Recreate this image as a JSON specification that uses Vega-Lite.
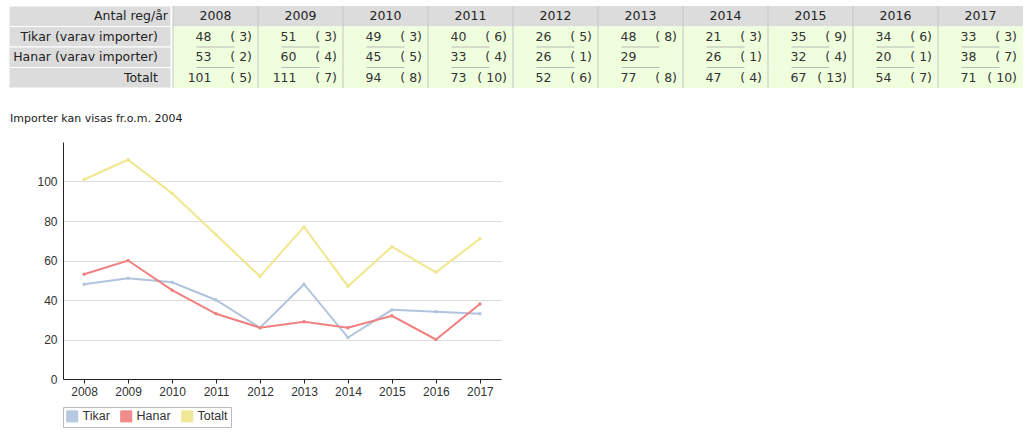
{
  "$schema": "https://vega.github.io/schema/vega-lite/v6.json",
  "padding": {"left": 8, "top": 5, "right": 0, "bottom": 0},
  "background": "white",
  "datasets": {
    "rader": [
      {"rad": "Antal reg/år", "typ": "header"},
      {"rad": "Tikar (varav importer)", "typ": "row"},
      {"rad": "Hanar (varav importer)", "typ": "row"},
      {"rad": "Totalt", "typ": "row"}
    ],
    "tab": [
      {"år": "2008", "kön": "Tikar", "rad": "Tikar (varav importer)", "antal": 48, "import": "( 3)"},
      {"år": "2008", "kön": "Hanar", "rad": "Hanar (varav importer)", "antal": 53, "import": "( 2)"},
      {"år": "2008", "kön": "Totalt", "rad": "Totalt", "antal": 101, "import": "( 5)"},
      {"år": "2009", "kön": "Tikar", "rad": "Tikar (varav importer)", "antal": 51, "import": "( 3)"},
      {"år": "2009", "kön": "Hanar", "rad": "Hanar (varav importer)", "antal": 60, "import": "( 4)"},
      {"år": "2009", "kön": "Totalt", "rad": "Totalt", "antal": 111, "import": "( 7)"},
      {"år": "2010", "kön": "Tikar", "rad": "Tikar (varav importer)", "antal": 49, "import": "( 3)"},
      {"år": "2010", "kön": "Hanar", "rad": "Hanar (varav importer)", "antal": 45, "import": "( 5)"},
      {"år": "2010", "kön": "Totalt", "rad": "Totalt", "antal": 94, "import": "( 8)"},
      {"år": "2011", "kön": "Tikar", "rad": "Tikar (varav importer)", "antal": 40, "import": "( 6)"},
      {"år": "2011", "kön": "Hanar", "rad": "Hanar (varav importer)", "antal": 33, "import": "( 4)"},
      {"år": "2011", "kön": "Totalt", "rad": "Totalt", "antal": 73, "import": "( 10)"},
      {"år": "2012", "kön": "Tikar", "rad": "Tikar (varav importer)", "antal": 26, "import": "( 5)"},
      {"år": "2012", "kön": "Hanar", "rad": "Hanar (varav importer)", "antal": 26, "import": "( 1)"},
      {"år": "2012", "kön": "Totalt", "rad": "Totalt", "antal": 52, "import": "( 6)"},
      {"år": "2013", "kön": "Tikar", "rad": "Tikar (varav importer)", "antal": 48, "import": "( 8)"},
      {"år": "2013", "kön": "Hanar", "rad": "Hanar (varav importer)", "antal": 29, "import": ""},
      {"år": "2013", "kön": "Totalt", "rad": "Totalt", "antal": 77, "import": "( 8)"},
      {"år": "2014", "kön": "Tikar", "rad": "Tikar (varav importer)", "antal": 21, "import": "( 3)"},
      {"år": "2014", "kön": "Hanar", "rad": "Hanar (varav importer)", "antal": 26, "import": "( 1)"},
      {"år": "2014", "kön": "Totalt", "rad": "Totalt", "antal": 47, "import": "( 4)"},
      {"år": "2015", "kön": "Tikar", "rad": "Tikar (varav importer)", "antal": 35, "import": "( 9)"},
      {"år": "2015", "kön": "Hanar", "rad": "Hanar (varav importer)", "antal": 32, "import": "( 4)"},
      {"år": "2015", "kön": "Totalt", "rad": "Totalt", "antal": 67, "import": "( 13)"},
      {"år": "2016", "kön": "Tikar", "rad": "Tikar (varav importer)", "antal": 34, "import": "( 6)"},
      {"år": "2016", "kön": "Hanar", "rad": "Hanar (varav importer)", "antal": 20, "import": "( 1)"},
      {"år": "2016", "kön": "Totalt", "rad": "Totalt", "antal": 54, "import": "( 7)"},
      {"år": "2017", "kön": "Tikar", "rad": "Tikar (varav importer)", "antal": 33, "import": "( 3)"},
      {"år": "2017", "kön": "Hanar", "rad": "Hanar (varav importer)", "antal": 38, "import": "( 7)"},
      {"år": "2017", "kön": "Totalt", "rad": "Totalt", "antal": 71, "import": "( 10)"}
    ]
  },
  "spacing": 24,
  "resolve": {"legend": {"color": "independent"}},
  "vconcat": [
    {
      "spacing": 0,
      "hconcat": [
        {
          "width": 162,
          "height": 82,
          "data": {"name": "rader"},
          "layer": [
            {
              "mark": {"type": "rect", "fill": "#dcdcdc", "stroke": "#ffffff", "strokeWidth": 1},
              "encoding": {
                "y": {"field": "rad", "type": "nominal", "sort": null, "scale": {"domain": ["Antal reg/år", "Tikar (varav importer)", "Hanar (varav importer)", "Totalt"], "paddingInner": 0, "paddingOuter": 0}, "axis": null}
              }
            },
            {
              "transform": [{"filter": "datum.typ == 'header'"}],
              "mark": {"type": "text", "align": "right", "dx": -3, "font": "DejaVu Sans", "fontSize": 12.5, "color": "#222222"},
              "encoding": {
                "x": {"value": "width"},
                "y": {"field": "rad", "type": "nominal", "sort": null, "axis": null},
                "text": {"field": "rad"}
              }
            },
            {
              "transform": [{"filter": "datum.typ == 'row'"}],
              "mark": {"type": "text", "align": "right", "dx": -13, "font": "DejaVu Sans", "fontSize": 12.5, "color": "#222222"},
              "encoding": {
                "x": {"value": "width"},
                "y": {"field": "rad", "type": "nominal", "sort": null, "axis": null},
                "text": {"field": "rad"}
              }
            }
          ]
        },
        {
          "width": 850,
          "height": 82,
          "data": {"name": "tab"},
          "encoding": {
            "x": {"field": "år", "type": "ordinal", "scale": {"paddingInner": 0, "paddingOuter": 0}, "axis": null}
          },
          "layer": [
            {
              "transform": [{"filter": "datum.kön == 'Tikar'"}],
              "mark": {"type": "rect", "fill": "#dcdcdc"},
              "encoding": {
                "y": {"datum": "Antal reg/år", "type": "nominal", "scale": {"domain": ["Antal reg/år", "Tikar (varav importer)", "Hanar (varav importer)", "Totalt"], "paddingInner": 0, "paddingOuter": 0}, "axis": null}
              }
            },
            {
              "mark": {"type": "rect", "fill": "#effedd"},
              "encoding": {
                "y": {"field": "rad", "type": "nominal", "axis": null}
              }
            },
            {
              "transform": [{"filter": "datum.kön == 'Tikar'"}],
              "mark": {"type": "rule", "color": "#c4c4c4", "strokeWidth": 1},
              "encoding": {
                "x": {"field": "år", "type": "ordinal", "bandPosition": 0}
              }
            },
            {
              "transform": [{"filter": "datum.kön != 'Totalt'"}],
              "mark": {"type": "tick", "orient": "horizontal", "size": 38, "thickness": 1, "color": "#b9b9b9", "opacity": 1},
              "encoding": {
                "x": {"field": "år", "type": "ordinal", "bandPosition": 0.775},
                "y": {"field": "rad", "type": "nominal", "bandPosition": 1, "axis": null}
              }
            },
            {
              "transform": [{"filter": "datum.kön == 'Tikar'"}],
              "mark": {"type": "text", "align": "center", "font": "DejaVu Sans", "fontSize": 12.5, "color": "#222222"},
              "encoding": {
                "x": {"field": "år", "type": "ordinal", "bandPosition": 0.5},
                "y": {"datum": "Antal reg/år", "type": "nominal", "axis": null},
                "text": {"field": "år"}
              }
            },
            {
              "mark": {"type": "text", "align": "right", "dx": -4, "font": "DejaVu Sans", "fontSize": 12.5, "color": "#333333"},
              "encoding": {
                "x": {"field": "år", "type": "ordinal", "bandPosition": 0.5},
                "y": {"field": "rad", "type": "nominal", "axis": null},
                "text": {"field": "antal"}
              }
            },
            {
              "mark": {"type": "text", "align": "right", "dx": -6, "font": "DejaVu Sans", "fontSize": 12.5, "color": "#333333"},
              "encoding": {
                "x": {"field": "år", "type": "ordinal", "bandPosition": 1},
                "y": {"field": "rad", "type": "nominal", "axis": null},
                "text": {"field": "import"}
              }
            }
          ]
        }
      ]
    },
    {
      "spacing": 0,
      "resolve": {"legend": {"color": "independent"}},
      "hconcat": [
        {
          "width": 1,
          "height": 237,
          "data": {"values": [{}]},
          "mark": {"type": "rule", "opacity": 0},
          "encoding": {}
        },
        {
          "width": 438,
          "height": 237,
          "data": {"name": "tab"},
          "title": {"text": "Importer kan visas fr.o.m. 2004", "anchor": "start", "frame": "bounds", "font": "DejaVu Sans", "fontSize": 11, "fontWeight": "normal", "color": "#222222", "offset": 18},
          "encoding": {
            "x": {
              "field": "år", "type": "ordinal",
              "scale": {"type": "point", "padding": 0.48},
              "axis": {"title": null, "labelAngle": 0, "grid": false, "domainColor": "#222222", "tickColor": "#222222", "tickSize": 4, "labelFont": "Liberation Sans", "labelFontSize": 12, "labelColor": "#333333", "labelPadding": 3}
            },
            "y": {
              "field": "antal", "type": "quantitative",
              "scale": {"domain": [0, 120], "nice": false},
              "axis": {"title": null, "values": [0, 20, 40, 60, 80, 100], "ticks": false, "labelPadding": 6, "domainColor": "#222222", "gridColor": "#dddddd", "labelFont": "Liberation Sans", "labelFontSize": 12, "labelColor": "#333333", "minExtent": 53}
            },
            "color": {
              "field": "kön", "type": "nominal",
              "scale": {"domain": ["Tikar", "Hanar", "Totalt"], "range": ["#b0c4de", "#f08080", "#f0e68c"]},
              "legend": {
                "title": null, "orient": "bottom", "direction": "horizontal", "symbolType": "square", "symbolSize": 120, "symbolStrokeWidth": 1,
                "labelFont": "Liberation Sans", "labelFontSize": 12.5, "labelColor": "#333333", "labelOffset": 4,
                "strokeColor": "#bbbbbb", "padding": 3, "columnPadding": 8, "offset": 10,
                "encode": {"symbols": {"update": {"fill": {"scale": "color", "field": "value"}, "fillOpacity": {"value": 0.9}, "stroke": {"value": "#8a8a8a"}}}}
              }
            }
          },
          "layer": [
            {"mark": {"type": "line", "strokeWidth": 2}},
            {"mark": {"type": "point", "filled": true, "size": 12, "opacity": 1}}
          ]
        }
      ]
    }
  ],
  "config": {
    "view": {"stroke": null}
  }
}
